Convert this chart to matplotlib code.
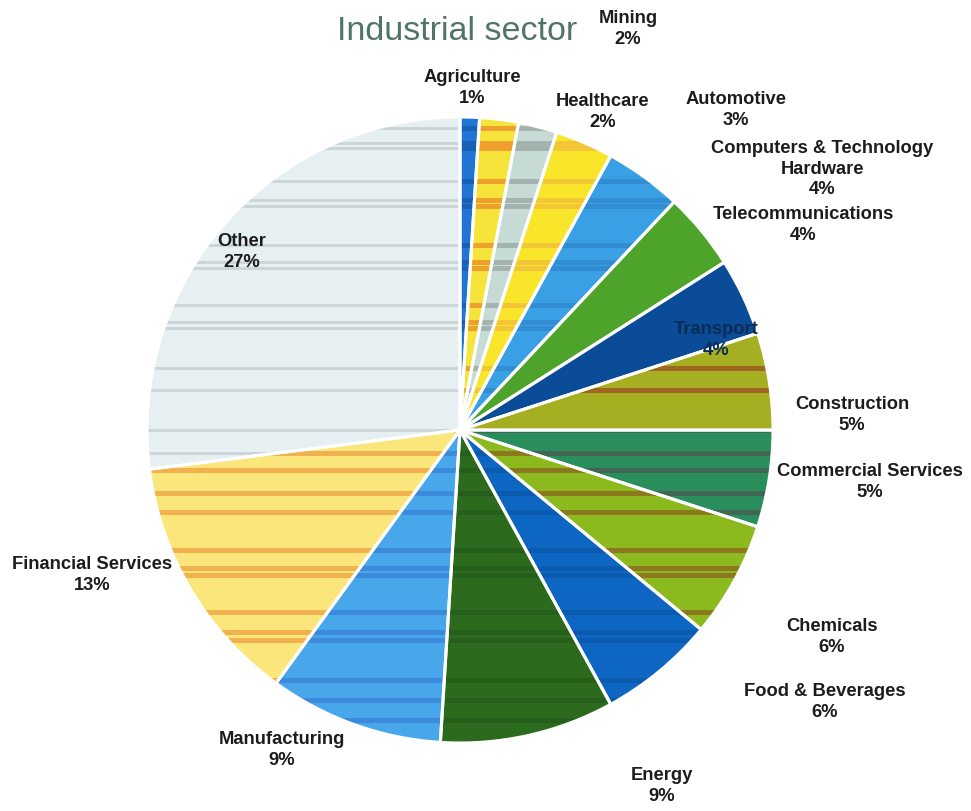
import matplotlib.pyplot as plt
from matplotlib.patches import Rectangle

plt.rcParams['font.family'] = ['Liberation Sans', 'DejaVu Sans']

# Sector shares, clockwise from 12 o'clock
sectors = ['Agriculture', 'Mining', 'Healthcare', 'Automotive',
           'Computers & Technology\nHardware', 'Telecommunications', 'Transport',
           'Construction', 'Commercial Services', 'Chemicals', 'Food & Beverages',
           'Energy', 'Manufacturing', 'Financial Services', 'Other']
shares = [1, 2, 2, 3, 4, 4, 4, 5, 5, 6, 6, 9, 9, 13, 27]

colors = ['#1f74d4', '#f7e43a', '#c6dad6', '#f9e62a', '#3aa0e6', '#4ea42a', '#0a4c98',
          '#a6ae22', '#2a8e5c', '#8cba1e', '#0c66c2', '#2c6a1e', '#48a6ea', '#fbe67c',
          '#e6eff1']
# horizontal band colour drawn over each wedge (None = plain)
stripe_colors = ['#1858a8', '#ea8a2a', '#9aa6a4', '#f2bc3a', '#2f86cc', None, None,
                 '#9c4e1e', '#4a5a52', '#8c6420', '#0a58aa', '#245a1a', '#3a80d6',
                 '#f0a040', '#c4ced2']

# label block centres in pixels (x, y from top)
label_pos = [(472, 88), (628, 29), (603, 112), (736, 110), (822, 169), (803, 225),
             (716, 340), (852, 415), (870, 482), (832, 637), (825, 702), (662, 786),
             (282, 750), (92, 575), (242, 252)]

W, H = 971, 811
CX, CY, R = 460, 430, 313

def px(x, y):
    return (x - CX) / R, (CY - y) / R

# pixel rows of the horizontal bands
band_rows = [128, 143, 148, 181, 200, 206, 245, 262, 268, 305, 322, 328, 368, 390,
             430, 453, 470, 493, 512, 550, 568, 575, 612, 632, 640, 680, 700, 720]

fig = plt.figure(figsize=(W / 100, H / 100), dpi=100)
ax = fig.add_axes([0, 0, 1, 1])

wedges, _ = ax.pie(shares, colors=colors, startangle=90, counterclock=False,
                   radius=1, center=(0, 0), wedgeprops=dict(linewidth=0))

for wedge, sc in zip(wedges, stripe_colors):
    if sc is None:
        continue
    thick = 3 if sc == '#c4ced2' else 5
    for row in band_rows:
        _, y = px(0, row)
        band = Rectangle((-1.1, y - thick / 2 / R), 2.2, thick / R, facecolor=sc,
                         edgecolor='none', alpha=0.75, zorder=wedge.get_zorder() + 0.1)
        ax.add_patch(band)
        band.set_clip_path(wedge)

# white separators on top of the bands
ax.pie(shares, startangle=90, counterclock=False, radius=1, center=(0, 0),
       wedgeprops=dict(fill=False, edgecolor='white', linewidth=2.2, zorder=3))

for name, share, (lx, ly) in zip(sectors, shares, label_pos):
    color = '#0b2c55' if name == 'Transport' else '#1c1c1c'
    x, y = px(lx, ly)
    ax.text(x, y, f'{name}\n{share}%', ha='center', va='center', fontsize=13.2,
            fontweight='bold', color=color, linespacing=1.3, zorder=5)

tx, ty = px(457, 32)
ax.text(tx, ty, 'Industrial sector', ha='center', va='center', fontsize=24.5,
        color='#4f7468', zorder=5)

ax.set_xlim(-CX / R, (W - CX) / R)
ax.set_ylim((CY - H) / R, CY / R)
ax.set_aspect('auto')
ax.axis('off')

fig.savefig('out.png', dpi=100)
